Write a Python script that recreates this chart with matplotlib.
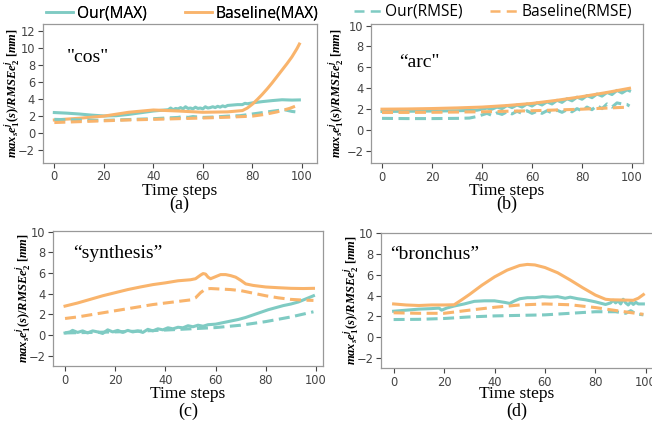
import matplotlib
matplotlib.use("Agg")
import matplotlib.pyplot as plt
from matplotlib.lines import Line2D

plt.rcParams['mathtext.fontset'] = 'custom'
plt.rcParams['mathtext.it'] = 'Liberation Serif:italic:bold'
plt.rcParams['mathtext.rm'] = 'Liberation Serif:bold'
plt.rcParams['mathtext.bf'] = 'Liberation Serif:bold'

TEAL = '#7fcbc3'
ORANGE = '#f9b46c'

# ---------------- data (time step, value) ----------------
a_our_max = [(0,2.42),(5,2.35),(10,2.25),(15,2.12),(20,2.02),(25,2.05),(30,2.2),(35,2.4),(40,2.6),(44,2.7),
             (46,2.75),(47,2.95),(48,2.75),(49,2.9),(50,2.85),(51,3.0),(52,2.85),(53,3.1),(54,2.9),(55,2.95),
             (56,2.85),(57,3.05),(58,2.9),(59,2.95),(60,2.85),(61,3.1),(62,2.95),(63,3.0),(64,3.1),(65,3.0),
             (66,3.15),(67,3.05),(68,3.2),(69,3.1),(70,3.25),(72,3.3),(74,3.35),(76,3.35),(77,3.5),(78,3.45),
             (80,3.55),(84,3.7),(88,3.82),(92,3.92),(96,3.88),(99,3.9)]
a_base_max = [(0,1.55),(10,1.75),(20,2.0),(30,2.45),(40,2.72),(50,2.6),(60,2.45),(70,2.5),(76,2.65),(78,2.95),
              (80,3.4),(82,3.95),(84,4.55),(86,5.2),(88,5.9),(90,6.65),(92,7.4),(94,8.15),(96,8.95),(98,9.9),(99,10.45)]
a_our_rmse = [(0,1.62),(10,1.55),(20,1.5),(30,1.6),(40,1.7),(50,1.85),(52,1.95),(54,1.85),(56,1.95),(60,1.85),
              (65,1.9),(70,2.0),(75,2.05),(80,2.25),(85,2.45),(90,2.65),(93,2.75),(96,2.55),(99,2.45)]
a_base_rmse = [(0,1.25),(10,1.35),(20,1.45),(30,1.55),(40,1.62),(50,1.7),(60,1.78),(70,1.87),(80,2.0),(85,2.2),
               (90,2.5),(95,2.9),(99,3.35)]

b_base_max = [(0,2.0),(10,2.02),(20,2.06),(30,2.12),(40,2.2),(50,2.35),(60,2.55),(70,2.85),(80,3.2),(90,3.6),(99,4.0)]
b_our_max = [(0,1.78),(10,1.8),(20,1.82),(30,1.85),(38,1.9),(40,2.0),(42,2.1),(44,2.0),(46,2.2),(48,2.05),
             (50,2.35),(52,2.15),(54,2.4),(56,2.2),(58,2.5),(60,2.3),(62,2.6),(64,2.4),(66,2.7),(68,2.5),
             (70,2.85),(72,2.65),(74,3.0),(76,2.8),(78,3.15),(80,2.95),(82,3.3),(84,3.1),(86,3.45),(88,3.25),
             (90,3.6),(92,3.4),(94,3.8),(96,3.55),(98,3.85),(99,3.75)]
b_our_rmse = [(0,1.12),(10,1.1),(20,1.1),(30,1.12),(35,1.15),(38,1.3),(40,1.45),(42,1.6),(44,1.4),(46,1.65),
              (48,1.5),(50,1.75),(52,1.55),(54,1.8),(56,1.6),(58,1.85),(60,1.6),(62,1.8),(64,1.6),(66,1.85),
              (68,1.65),(70,1.9),(72,1.7),(74,1.95),(76,1.75),(78,2.05),(80,1.85),(82,2.2),(84,1.95),(86,2.35),
              (88,2.05),(90,2.5),(92,2.2),(94,2.6),(96,2.5),(98,2.45),(99,2.3)]
b_base_rmse = [(0,1.68),(20,1.7),(40,1.75),(60,1.85),(80,2.0),(99,2.2)]

c_base_max = [(0,2.8),(5,3.1),(10,3.45),(15,3.8),(20,4.1),(25,4.4),(30,4.65),(35,4.88),(40,5.05),(45,5.25),
              (50,5.35),(52,5.45),(54,5.8),(55,5.95),(56,5.9),(57,5.6),(58,5.45),(60,5.65),(62,5.85),(64,5.85),
              (66,5.75),(68,5.6),(70,5.3),(72,4.95),(75,4.8),(80,4.65),(85,4.58),(90,4.52),(95,4.5),(99,4.52)]
c_base_rmse = [(0,1.6),(5,1.75),(10,1.95),(15,2.15),(20,2.35),(25,2.55),(30,2.75),(35,2.95),(40,3.1),(45,3.25),
               (50,3.4),(52,3.6),(54,4.1),(56,4.45),(58,4.5),(62,4.45),(66,4.4),(70,4.3),(75,4.05),(80,3.8),
               (85,3.6),(90,3.45),(95,3.38),(99,3.35)]
c_our_max = [(0,0.2),(2,0.3),(3,0.45),(5,0.25),(7,0.4),(9,0.2),(11,0.4),(13,0.3),(15,0.15),(17,0.5),
             (19,0.3),(21,0.45),(23,0.25),(25,0.45),(27,0.3),(29,0.4),(31,0.25),(33,0.55),(35,0.4),(37,0.6),
             (39,0.5),(41,0.7),(43,0.6),(45,0.75),(47,0.7),(49,0.9),(51,0.8),(53,0.95),(55,0.85),(57,1.0),
             (60,1.05),(63,1.2),(66,1.35),(69,1.5),(72,1.7),(75,1.95),(78,2.2),(81,2.45),(84,2.65),(87,2.85),
             (90,3.0),(93,3.2),(96,3.5),(99,3.8)]
c_our_rmse = [(0,0.2),(10,0.25),(20,0.3),(30,0.38),(40,0.48),(50,0.6),(60,0.72),(70,0.95),(80,1.3),(90,1.75),(99,2.25)]

d_base_max = [(0,3.2),(5,3.1),(10,3.05),(15,3.1),(20,3.1),(24,3.12),(27,3.6),(30,4.1),(35,5.0),(40,5.8),
              (45,6.45),(50,6.9),(53,7.0),(56,6.95),(60,6.7),(65,6.2),(70,5.5),(75,4.75),(80,4.05),(84,3.65),
              (86,3.6),(90,3.58),(95,3.55),(97,3.75),(99,4.1)]
d_our_max = [(0,2.5),(5,2.6),(10,2.7),(15,2.75),(18,2.8),(19,2.6),(21,2.8),(24,3.0),(28,3.2),(32,3.45),
             (36,3.5),(40,3.5),(44,3.35),(46,3.25),(48,3.5),(50,3.7),(53,3.8),(56,3.8),(59,3.9),(62,3.85),
             (65,3.9),(68,3.75),(70,3.85),(73,3.7),(76,3.6),(80,3.4),(84,3.15),(86,3.3),(87,3.55),(88,3.3),
             (89,3.5),(90,3.2),(91,3.65),(92,3.3),(93,3.1),(94,3.4),(95,3.15),(96,3.35),(97,3.2),(99,3.2)]
d_base_rmse = [(0,2.35),(10,2.3),(20,2.3),(30,2.6),(40,2.88),(50,3.1),(60,3.2),(70,3.12),(80,2.85),(90,2.5),(99,2.2)]
d_our_rmse = [(0,1.7),(10,1.72),(20,1.8),(30,1.95),(40,2.05),(50,2.1),(60,2.15),(70,2.3),(80,2.45),(88,2.45),
              (92,2.3),(94,2.55),(96,2.25),(99,2.15)]

panel_names = ['"cos"', '\u201carc"', '\u201csynthesis\u201d', '\u201cbronchus\u201d']
panel_tags = ['(a)', '(b)', '(c)', '(d)']
legend_labels = ['Our(MAX)', 'Baseline(MAX)', 'Our(RMSE)', 'Baseline(RMSE)']
x_ticks = [0, 20, 40, 60, 80, 100]
y_ticks = [-2, 0, 2, 4, 6, 8, 10, 12]

panels = [
    dict(series=(a_our_max, a_base_max, a_our_rmse, a_base_rmse),
         box=(42.7, 24, 316.7, 162.7), xlim=(-4.7, 106), ylim=(-3.46, 12.8),
         name_pos=(0.089, 0.76), ylab_x=12, xlab_y=191, tag_y=204),
    dict(series=(b_our_max, b_base_max, b_our_rmse, b_base_rmse),
         box=(371, 24, 643, 163), xlim=(-4.4, 104.4), ylim=(-3.15, 10.15),
         name_pos=(0.105, 0.72), ylab_x=336, xlab_y=191, tag_y=204),
    dict(series=(c_our_max, c_base_max, c_our_rmse, c_base_rmse),
         box=(53, 230.7, 323, 366), xlim=(-4.8, 102.8), ylim=(-3.0, 10.1),
         name_pos=(0.074, 0.835), ylab_x=23, xlab_y=394.5, tag_y=411),
    dict(series=(d_our_max, d_base_max, d_our_rmse, d_base_rmse),
         box=(381, 232.7, 656, 368), xlim=(-5.0, 104), ylim=(-2.96, 10.05),
         name_pos=(0.033, 0.84), ylab_x=351, xlab_y=394.5, tag_y=411),
]

W, H = 652, 424
fig = plt.figure(figsize=(W / 100, H / 100), dpi=100)

ylabel = r'$max_se_1^j(s)/RMSEe_2^j\ [mm]$'
styles = [(TEAL, '-'), (ORANGE, '-'), (TEAL, '--'), (ORANGE, '--')]

for i, p in enumerate(panels):
    l, t, r, b = p['box']
    ax = fig.add_axes([l / W, 1 - b / H, (r - l) / W, (b - t) / H])
    for data, (c, ls) in zip(p['series'], styles):
        xs = [d[0] for d in data]
        ys = [d[1] for d in data]
        if ls == '--':
            ax.plot(xs, ys, color=c, ls=ls, lw=2.2, dashes=(3.6, 1.8))
        else:
            ax.plot(xs, ys, color=c, ls=ls, lw=2.2)
    ax.set_xlim(*p['xlim'])
    ax.set_ylim(*p['ylim'])
    ax.set_xticks(x_ticks)
    ax.set_yticks([v for v in y_ticks if p['ylim'][0] <= v <= p['ylim'][1]])
    ax.tick_params(labelsize=8.3, colors='#444444', length=3.5, width=0.8, pad=2)
    for s in ax.spines.values():
        s.set_color('#999999')
        s.set_linewidth(0.9)
    ax.text(p['name_pos'][0], p['name_pos'][1], panel_names[i], transform=ax.transAxes,
            fontsize=14, family='Liberation Serif', va='center', ha='left')
    cx = (l + r) / 2
    if i == 3:
        cx = 517
    fig.text(cx / W, 1 - p['xlab_y'] / H, 'Time steps', fontsize=12.5,
             family='Liberation Serif', ha='center', va='center')
    fig.text(cx / W, 1 - p['tag_y'] / H, panel_tags[i], fontsize=13,
             family='Liberation Serif', ha='center', va='center')
    fig.text(p['ylab_x'] / W, 1 - ((t + b) / 2) / H, ylabel, rotation=90,
             fontsize=9.0, ha='center', va='center')

h_our = Line2D([], [], color=TEAL, lw=1.8)
h_base = Line2D([], [], color=ORANGE, lw=1.8)
h_our_r = Line2D([], [], color=TEAL, lw=1.8, ls='--', dashes=(4, 2.5))
h_base_r = Line2D([], [], color=ORANGE, lw=1.8, ls='--', dashes=(4, 2.5))

FS = 11.2
leg1 = fig.legend([h_our, h_base], legend_labels[:2], loc='center left',
                  bbox_to_anchor=(46 / W, 1 - 13 / H), ncol=2, frameon=False,
                  prop={'family': 'Open Sans', 'size': FS}, handlelength=1.75,
                  handletextpad=0.27, columnspacing=2.4, borderpad=0, borderaxespad=0)
leg2 = fig.legend([h_our_r, h_base_r], legend_labels[2:], loc='center left',
                  bbox_to_anchor=(354 / W, 1 - 12 / H), ncol=2, frameon=False,
                  prop={'family': 'Open Sans', 'size': FS}, handlelength=1.75,
                  handletextpad=0.27, columnspacing=1.75, borderpad=0, borderaxespad=0)
fig.add_artist(leg1)

fig.savefig('out.png', dpi=100)
